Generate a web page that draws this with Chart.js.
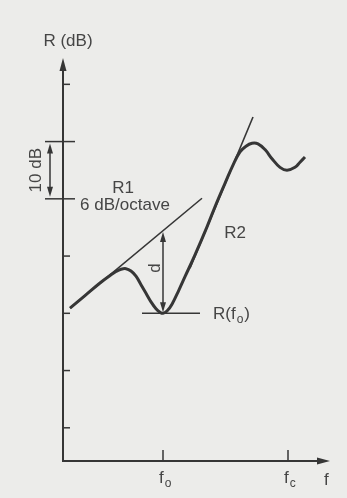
<!DOCTYPE html>
<html>
<head>
<meta charset="utf-8">
<script src="https://cdn.jsdelivr.net/npm/chart.js@4.4.1/dist/chart.umd.min.js"></script>
<style>
  html, body { margin: 0; padding: 0; background: #ececea; }
  canvas { display: block; }
</style>
</head>
<body>
<canvas id="chart" width="347" height="498"></canvas>
<script>
// measured curve R(f): frequency in axis units, R in dB
const curveF = [7, 22, 37, 47, 53, 58, 63, 68, 73, 78, 83, 88, 93, 97, 100, 104, 109, 116, 122,
  132, 144, 152, 162, 170, 177, 183, 189, 195, 202, 209, 217, 224, 232, 237, 242];
const curveR = [30.9, 33.1, 35.3, 36.6, 37.3, 37.7, 37.8, 37.4, 36.5, 35.0, 33.5, 32.0, 30.8, 30.2, 30.0, 30.4, 31.6, 34.1, 36.4,
  40.2, 45.1, 48.6, 52.7, 55.9, 58.2, 59.2, 59.7, 59.6, 58.6, 57.0, 55.5, 55.0, 55.5, 56.4, 57.3];

// asymptote R1 (6 dB/octave)
const r1F = [7, 139];
const r1R = [30.9, 50.1];

// asymptote R2
const r2F = [127, 190];
const r2R = [37.9, 64.3];

// level R(f0)
const minF = [79, 137];
const minR = [30, 30];

// axis ticks
const yTicks = [10, 20, 30, 40, 50, 60, 70];
const bracketTicks = [50, 60];
const xTicks = [100, 225];
const xTickLabels = [['f', 'o'], ['f', 'c']];

// gap d at f0 between R(f0) and R1
const dF = 100;
const dBottom = 30;
const dTop = 44.4;

const INK = '#363636';
const TEXT = '#454545';
const FONT = '17px "Liberation Sans", Arial, sans-serif';
const SUB_FONT = '12px "Liberation Sans", Arial, sans-serif';

const toPoints = (xs, ys) => xs.map((v, i) => ({ x: v, y: ys[i] }));

// text with subscript, e.g. f with index o
function drawSub(ctx, px, py, main, sub, tail) {
  ctx.font = FONT;
  ctx.textAlign = 'left';
  ctx.textBaseline = 'alphabetic';
  ctx.fillText(main, px, py);
  let cx = px + ctx.measureText(main).width + 1;
  ctx.font = SUB_FONT;
  ctx.fillText(sub, cx, py + 4);
  cx += ctx.measureText(sub).width + 1;
  if (tail) {
    ctx.font = FONT;
    ctx.fillText(tail, cx, py);
  }
}

function arrowHead(ctx, tipX, tipY, dx, dy, len, half) {
  // dx, dy - direction of the arrow
  const bx = tipX - dx * len;
  const by = tipY - dy * len;
  ctx.beginPath();
  ctx.moveTo(tipX, tipY);
  ctx.lineTo(bx - dy * half, by + dx * half);
  ctx.lineTo(bx + dy * half, by - dx * half);
  ctx.closePath();
  ctx.fill();
}

// plugin for axes, ticks, arrows and labels of the scheme
const schemePlugin = {
  id: 'scheme',
  afterDatasetsDraw(chart) {
    const { ctx, scales: { x, y } } = chart;
    const x0 = x.getPixelForValue(0);
    const y0 = y.getPixelForValue(y.min);
    const xEnd = x.getPixelForValue(x.max);
    const yEnd = y.getPixelForValue(y.max);

    ctx.save();
    ctx.strokeStyle = INK;
    ctx.fillStyle = INK;
    ctx.lineCap = 'butt';

    // axes
    ctx.lineWidth = 2;
    ctx.beginPath();
    ctx.moveTo(x0, yEnd + 8);
    ctx.lineTo(x0, y0);
    ctx.lineTo(xEnd - 8, y0);
    ctx.stroke();
    arrowHead(ctx, x0, yEnd, 0, -1, 13, 3.5);
    arrowHead(ctx, xEnd, y0, 1, 0, 13, 3.5);

    // y ticks
    ctx.lineWidth = 1.5;
    yTicks.forEach((v) => {
      const py = y.getPixelForValue(v);
      const long = bracketTicks.includes(v);
      ctx.beginPath();
      ctx.moveTo(long ? x0 - 18 : x0, py);
      ctx.lineTo(x0 + (long ? 12 : 7), py);
      ctx.stroke();
    });

    // 10 dB bracket
    const bx = x0 - 13;
    const bTop = y.getPixelForValue(bracketTicks[1]);
    const bBot = y.getPixelForValue(bracketTicks[0]);
    ctx.beginPath();
    ctx.moveTo(bx, bTop + 6);
    ctx.lineTo(bx, bBot - 6);
    ctx.stroke();
    arrowHead(ctx, bx, bTop + 2, 0, -1, 10, 3);
    arrowHead(ctx, bx, bBot - 2, 0, 1, 10, 3);
    ctx.save();
    ctx.fillStyle = TEXT;
    ctx.translate(x0 - 27, (bTop + bBot) / 2);
    ctx.rotate(-Math.PI / 2);
    ctx.font = FONT;
    ctx.textAlign = 'center';
    ctx.textBaseline = 'middle';
    ctx.fillText('10 dB', 0, 0);
    ctx.restore();

    // x ticks
    xTicks.forEach((v, i) => {
      const px = x.getPixelForValue(v);
      ctx.beginPath();
      ctx.moveTo(px, y0);
      ctx.lineTo(px, y0 - 11);
      ctx.stroke();
      ctx.fillStyle = TEXT;
      drawSub(ctx, px - 4, y0 + 22, xTickLabels[i][0], xTickLabels[i][1]);
      ctx.fillStyle = INK;
    });

    // gap d
    const dx = x.getPixelForValue(dF);
    const dTopPx = y.getPixelForValue(dTop);
    const dBotPx = y.getPixelForValue(dBottom);
    ctx.beginPath();
    ctx.moveTo(dx, dTopPx + 6);
    ctx.lineTo(dx, dBotPx - 6);
    ctx.stroke();
    arrowHead(ctx, dx, dTopPx + 1, 0, -1, 10, 3);
    arrowHead(ctx, dx, dBotPx - 1, 0, 1, 10, 3);

    // labels
    ctx.fillStyle = TEXT;
    ctx.font = FONT;
    ctx.textAlign = 'center';
    ctx.textBaseline = 'middle';
    ctx.fillText('R (dB)', x0 + 5, y.getPixelForValue(77.6));
    ctx.fillText('R1', x.getPixelForValue(60), y.getPixelForValue(51.9));
    ctx.fillText('6 dB/octave', x.getPixelForValue(62), y.getPixelForValue(48.9));
    ctx.fillText('R2', x.getPixelForValue(172), y.getPixelForValue(44.0));
    ctx.textAlign = 'left';
    ctx.fillText('f', x.getPixelForValue(x.max) - 6, y0 + 19);

    ctx.save();
    ctx.translate(x.getPixelForValue(92), y.getPixelForValue(37.9));
    ctx.rotate(-Math.PI / 2);
    ctx.textAlign = 'center';
    ctx.fillText('d', 0, 0);
    ctx.restore();

    drawSub(ctx, x.getPixelForValue(minF[1]) + 13, y.getPixelForValue(minR[0]) + 6, 'R(f', 'o', ')');

    ctx.restore();
  },
};

const lineStyle = {
  showLine: true,
  pointRadius: 0,
  borderColor: INK,
  fill: false,
};

const chart = new Chart(document.getElementById('chart'), {
  type: 'scatter',
  data: {
    datasets: [
      {
        ...lineStyle,
        data: toPoints(curveF, curveR),
        borderWidth: 3,
        tension: 0.4,
      },
      { ...lineStyle, data: toPoints(r1F, r1R), borderWidth: 1.6 },
      { ...lineStyle, data: toPoints(r2F, r2R), borderWidth: 1.6 },
      { ...lineStyle, data: toPoints(minF, minR), borderWidth: 1.6 },
    ],
  },
  options: {
    responsive: false,
    animation: false,
    layout: {
      padding: { left: 63, right: 17, top: 58, bottom: 37 },
    },
    plugins: {
      legend: { display: false },
      tooltip: { enabled: false },
    },
    scales: {
      x: { type: 'linear', display: false, min: 0, max: 267 },
      y: { type: 'linear', display: false, min: 4.2, max: 74.6 },
    },
  },
  plugins: [schemePlugin],
});
</script>
</body>
</html>
